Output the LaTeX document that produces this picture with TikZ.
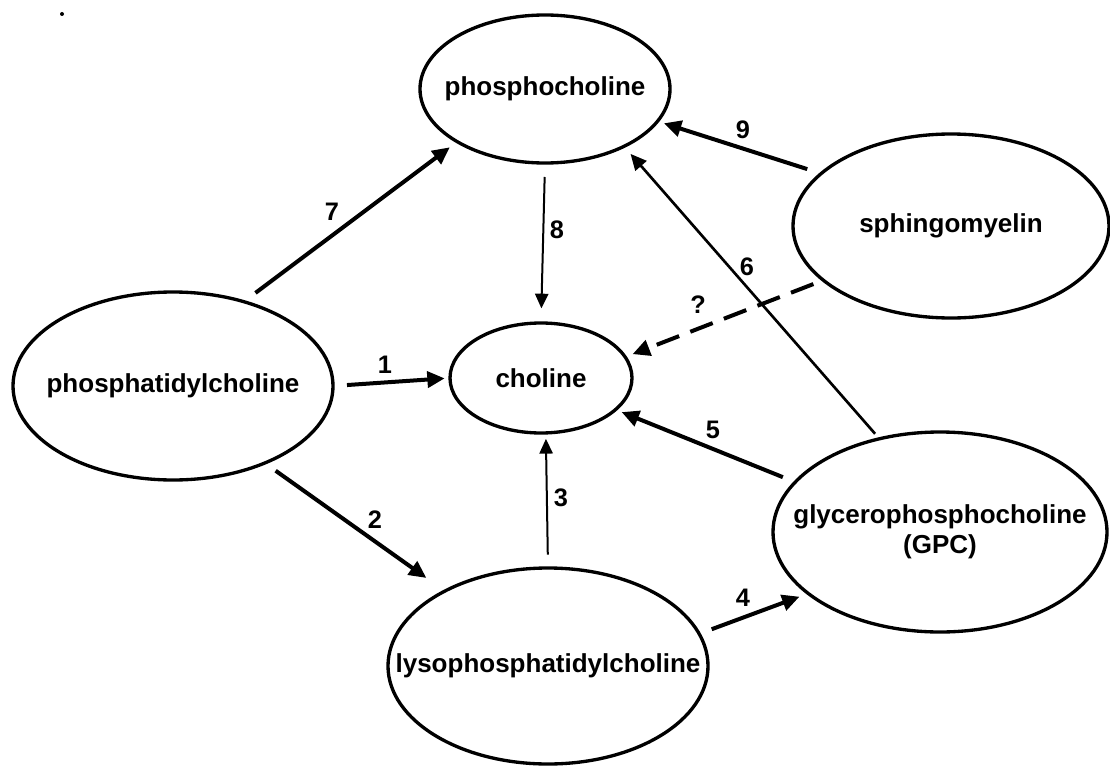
\documentclass[tikz,border=0pt]{standalone}
\usepackage{fontspec}
\setmainfont{Liberation Sans}
\usepackage{tikz}
\usetikzlibrary{arrows.meta,shapes.geometric}
\tikzset{
  pool/.style={draw, ellipse, line width=2.5pt, inner sep=0pt, outer sep=0pt},
  flux/.style={line width=3pt, -{Triangle[length=13pt,width=12pt]}},
  thinflux/.style={line width=1.5pt, -{Triangle[length=11pt,width=10pt]}},
  midflux/.style={line width=2pt, -{Triangle[length=12pt,width=11pt]}},
  guess/.style={flux, dash pattern=on 18pt off 9pt},
  num/.style={font=\fontsize{19}{22}\selectfont\bfseries, inner sep=1pt},
  every label/.style={font=\fontsize{19.5}{22.5}\selectfont\bfseries, align=center}
}

\begin{document}
\begin{tikzpicture}[x=0.75pt, y=-0.75pt]
\useasboundingbox (0,0) rectangle (1110,767);
\fill (62,14) circle (1.5pt);

% pools
\node[pool, minimum width=187.5pt, minimum height=111pt, label=center:phosphocholine] (pcho) at (545,89) {};
\node[pool, minimum width=237pt, minimum height=138pt, label=center:sphingomyelin] (sph) at (951,226) {};
\node[pool, minimum width=240pt, minimum height=141pt, label=center:phosphatidylcholine] (ptc) at (173,386) {};
\node[pool, minimum width=136.5pt, minimum height=82.5pt, label=center:choline] (cho) at (541,378) {};
\node[pool, minimum width=250.5pt, minimum height=150pt, label={center:glycerophosphocholine\\(GPC)}] (gpc) at (940,532) {};
\node[pool, minimum width=240pt, minimum height=147pt, label=center:lysophosphatidylcholine] (lyso) at (548,666) {};

% reactions
\draw[flux, shorten <=11pt, shorten >=7pt] (ptc.50) -- (pcho.211);
\draw[flux, shorten <=11pt, shorten >=5pt] (sph.158) -- (pcho.-16);
\draw[midflux, shorten <=5pt, shorten >=7.5pt] (gpc.123) -- (pcho.-36);
\draw[thinflux, shorten <=10.5pt, shorten >=11pt] (pcho.south) -- (cho.north);
\draw[guess, shorten <=8pt, shorten >=6pt] (sph.203) -- (cho.14);
\draw[flux, shorten <=10.5pt, shorten >=4pt] (ptc.east) -- (cho.west);
\draw[flux, shorten <=10pt, shorten >=5pt] (gpc.161) -- (cho.-23);
\draw[thinflux, shorten <=10pt, shorten >=4.5pt] (lyso.north) -- (cho.-85);
\draw[flux, shorten <=10pt, shorten >=17pt] (ptc.-40) -- (lyso.144);
\draw[flux, shorten <=10pt, shorten >=7pt] (lyso.12) -- (gpc.205);

% numbers
\node[num] (n1) at (385,365) {1};
\node[num] (n2) at (375,520) {2};
\node[num] (n3) at (561,498) {3};
\node[num] (n4) at (743,598) {4};
\node[num] (n5) at (713,430) {5};
\node[num] (n6) at (747,267) {6};
\node[num] (n7) at (332,212) {7};
\node[num] (n8) at (557,230) {8};
\node[num] (n9) at (743,130) {9};
\node[num] (nq) at (698,305) {?};
\end{tikzpicture}
\end{document}
